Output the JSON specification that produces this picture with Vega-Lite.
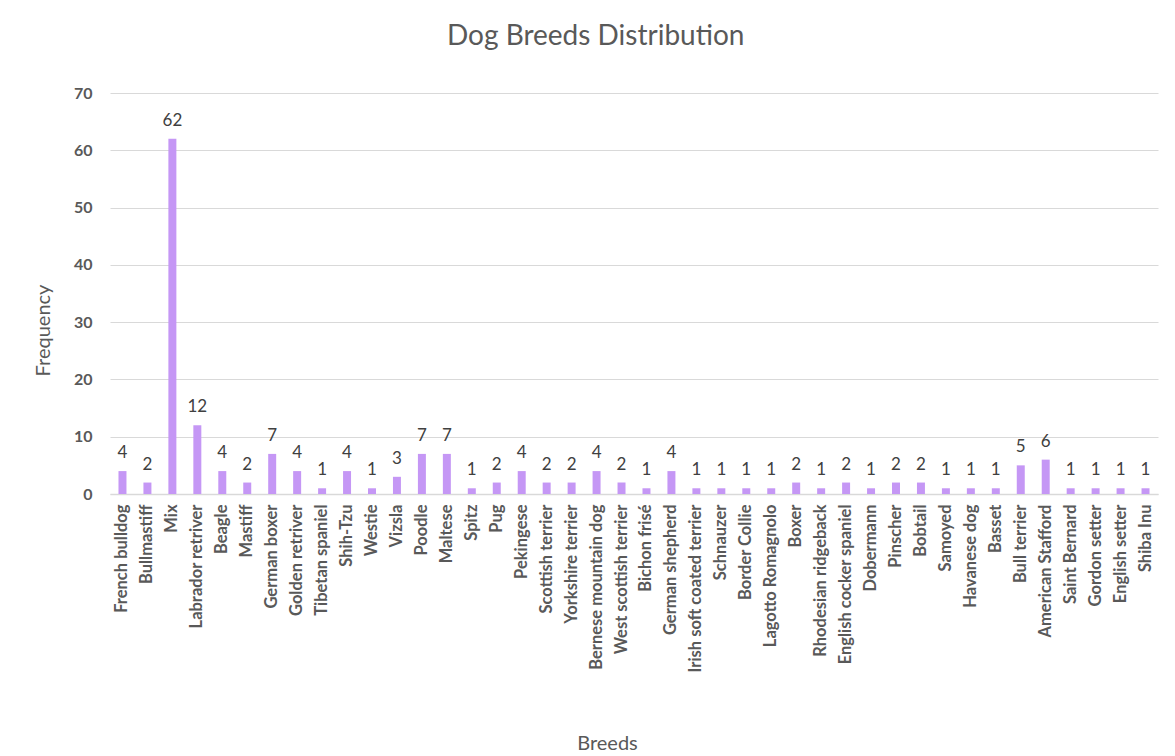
{
  "$schema": "https://vega.github.io/schema/vega-lite/v6.json",
  "autosize": "none",
  "width": 1048,
  "height": 401,
  "padding": {"left": 110, "top": 93, "right": 17, "bottom": 262},
  "background": "#ffffff",
  "title": {
    "text": "Dog Breeds Distribution",
    "anchor": "middle",
    "frame": "bounds",
    "fontSize": 28,
    "fontWeight": "normal",
    "font": "Lato",
    "color": "#595959",
    "offset": 34
  },
  "data": {
    "values": [
      {"breed": "French bulldog", "count": 4},
      {"breed": "Bullmastiff", "count": 2},
      {"breed": "Mix", "count": 62},
      {"breed": "Labrador retriver", "count": 12},
      {"breed": "Beagle", "count": 4},
      {"breed": "Mastiff", "count": 2},
      {"breed": "German boxer", "count": 7},
      {"breed": "Golden retriver", "count": 4},
      {"breed": "Tibetan spaniel", "count": 1},
      {"breed": "Shih-Tzu", "count": 4},
      {"breed": "Westie", "count": 1},
      {"breed": "Vizsla", "count": 3},
      {"breed": "Poodle", "count": 7},
      {"breed": "Maltese", "count": 7},
      {"breed": "Spitz", "count": 1},
      {"breed": "Pug", "count": 2},
      {"breed": "Pekingese", "count": 4},
      {"breed": "Scottish terrier", "count": 2},
      {"breed": "Yorkshire terrier", "count": 2},
      {"breed": "Bernese mountain dog", "count": 4},
      {"breed": "West scottish terrier", "count": 2},
      {"breed": "Bichon frisé", "count": 1},
      {"breed": "German shepherd", "count": 4},
      {"breed": "Irish soft coated terrier", "count": 1},
      {"breed": "Schnauzer", "count": 1},
      {"breed": "Border Collie", "count": 1},
      {"breed": "Lagotto Romagnolo", "count": 1},
      {"breed": "Boxer", "count": 2},
      {"breed": "Rhodesian ridgeback", "count": 1},
      {"breed": "English cocker spaniel", "count": 2},
      {"breed": "Dobermann", "count": 1},
      {"breed": "Pinscher", "count": 2},
      {"breed": "Bobtail", "count": 2},
      {"breed": "Samoyed", "count": 1},
      {"breed": "Havanese dog", "count": 1},
      {"breed": "Basset", "count": 1},
      {"breed": "Bull terrier", "count": 5},
      {"breed": "American Stafford", "count": 6},
      {"breed": "Saint Bernard", "count": 1},
      {"breed": "Gordon setter", "count": 1},
      {"breed": "English setter", "count": 1},
      {"breed": "Shiba Inu", "count": 1}
    ]
  },
  "encoding": {
    "x": {
      "field": "breed",
      "type": "nominal",
      "sort": null,
      "scale": {"paddingInner": 0.68, "paddingOuter": 0.34},
      "axis": {
        "title": "Breeds",
        "titleFont": "Lato",
        "titleFontSize": 20,
        "titleFontWeight": "normal",
        "titleColor": "#595959",
        "titleX": 497,
        "titleY": 249,
        "titleBaseline": "middle",
        "labelAngle": -90,
        "labelFont": "Lato",
        "labelFontSize": 16.5,
        "labelFontWeight": "bold",
        "labelColor": "#595959",
        "labelPadding": 10,
        "ticks": false,
        "domain": true,
        "domainColor": "#d9d9d9",
        "domainWidth": 1.5
      }
    },
    "y": {
      "field": "count",
      "type": "quantitative",
      "scale": {"domain": [0, 70], "nice": false},
      "axis": {
        "title": "Frequency",
        "titleFont": "Lato",
        "titleFontSize": 20,
        "titleFontWeight": "normal",
        "titleColor": "#595959",
        "titlePadding": 20,
        "titleY": 237,
        "values": [0, 10, 20, 30, 40, 50, 60, 70],
        "labelFont": "Lato",
        "labelFontSize": 16,
        "labelFontWeight": "bold",
        "labelColor": "#595959",
        "labelPadding": 18,
        "ticks": false,
        "domain": false,
        "grid": true,
        "gridColor": "#d9d9d9",
        "gridWidth": 1.2
      }
    }
  },
  "layer": [
    {"mark": {"type": "bar", "color": "#c597f5"}},
    {
      "mark": {
        "type": "text",
        "baseline": "bottom",
        "dy": -9,
        "font": "Lato",
        "fontSize": 17,
        "color": "#404040"
      },
      "encoding": {"text": {"field": "count", "type": "quantitative"}}
    }
  ],
  "config": {"view": {"stroke": null}}
}
